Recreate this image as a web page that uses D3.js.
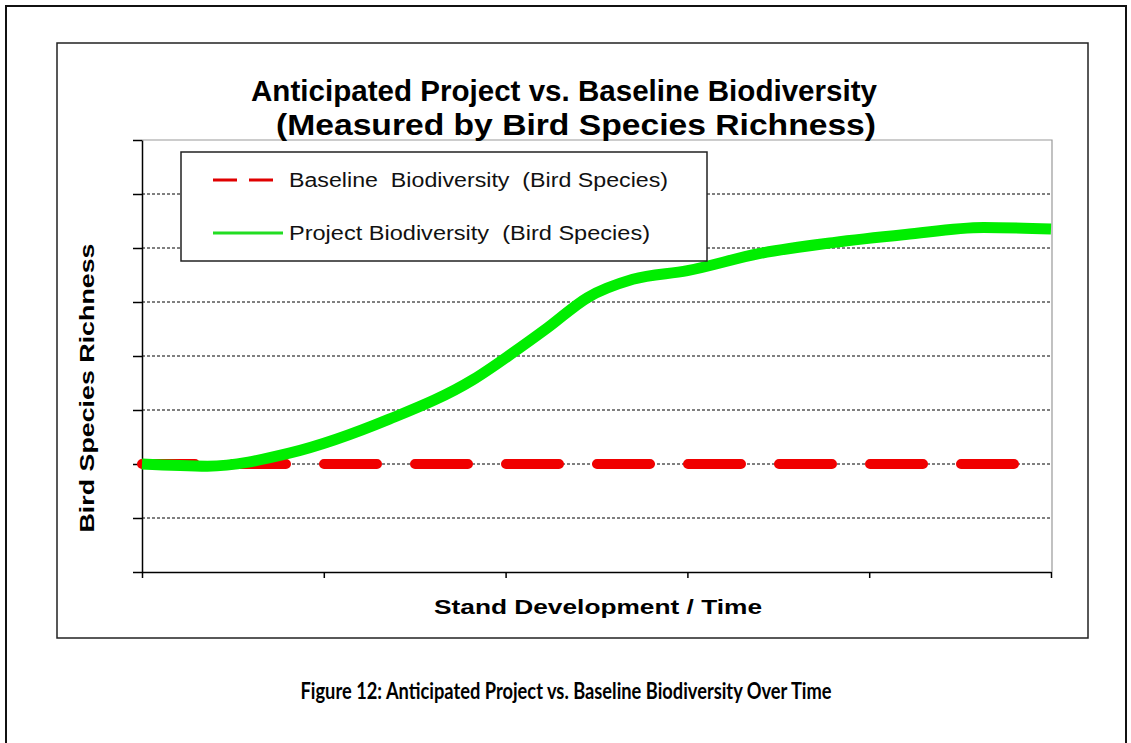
<!DOCTYPE html>
<html>
<head>
<meta charset="utf-8">
<script src="https://cdn.jsdelivr.net/npm/d3@7"></script>
<style>
  body { margin: 0; background: #fff; }
  text { font-family: 'Liberation Sans', Arial, sans-serif; }
</style>
</head>
<body>
<script>
// Data (x = stand development steps, y = richness units)
const xTicks = [0, 1, 2, 3, 4, 5];
const yTicks = [0, 1, 2, 3, 4, 5, 6, 7, 8];
const gridValues = [1, 2, 3, 4, 5, 6, 7];
const baselineX = [0, 5];
const baselineY = [2, 2];
const projectX = [0, 0.36, 0.81, 1.36, 1.82, 2.04, 2.23, 2.45, 2.7, 3.0, 3.4, 3.8, 4.2, 4.63, 5];
const projectY = [2.0, 1.96, 2.2, 2.83, 3.56, 4.06, 4.52, 5.08, 5.42, 5.58, 5.9, 6.1, 6.25, 6.38, 6.35];
const legendLabels = ['Baseline  Biodiversity  (Bird Species)', 'Project Biodiversity  (Bird Species)'];
const legendWidths = [379, 361];

const w = 1131;
const h = 743;

const svg = d3.select('body').append('svg').attr('width', w).attr('height', h);

// Outer figure frame and chart frame
svg.append('rect').attr('x', 6).attr('y', 6).attr('width', 1120).attr('height', 760)
  .attr('fill', 'none').attr('stroke', '#111').attr('stroke-width', 2);
svg.append('rect').attr('x', 57).attr('y', 43).attr('width', 1031).attr('height', 595)
  .attr('fill', '#fff').attr('stroke', '#222').attr('stroke-width', 1.5);

// Scales
const x = d3.scaleLinear().domain([0, 5]).range([142, 1051]);
const y = d3.scaleLinear().domain([0, 8]).range([572, 140]);

// Plot area border (grey, top and right)
svg.append('path')
  .attr('d', `M${x(0)},${y(8)}H${x(5) + 1}V${y(0)}`)
  .attr('fill', 'none').attr('stroke', '#999').attr('stroke-width', 1.2);

// Dashed gridlines
svg.append('g').selectAll('line').data(gridValues).enter().append('line')
  .attr('x1', x(0)).attr('x2', x(5))
  .attr('y1', d => y(d)).attr('y2', d => y(d))
  .attr('stroke', '#000').attr('stroke-width', 1).attr('stroke-dasharray', '3,2');

// Axes
const yAxis = d3.axisLeft(y).tickValues(yTicks).tickSize(9).tickSizeOuter(0).tickFormat('');
svg.append('g').attr('transform', `translate(${x(0)},0)`).call(yAxis)
  .call(g => g.selectAll('line,path').attr('stroke', '#000').attr('stroke-width', 1.5));
const xAxis = d3.axisBottom(x).tickValues(xTicks).tickSize(6).tickSizeOuter(0).tickFormat('');
svg.append('g').attr('transform', `translate(0,${y(0)})`).call(xAxis)
  .call(g => g.selectAll('line,path').attr('stroke', '#000').attr('stroke-width', 1.5));

const line = d3.line().x(d => x(d[0])).y(d => y(d[1]));

// Baseline series (thick red dashes)
svg.append('path')
  .datum(baselineX.map((d, i) => [d, baselineY[i]]))
  .attr('d', line)
  .attr('fill', 'none').attr('stroke', '#f00000').attr('stroke-width', 10)
  .attr('stroke-linecap', 'round').attr('stroke-dasharray', '53,38');

// Project series (thick green curve)
svg.append('path')
  .datum(projectX.map((d, i) => [d, projectY[i]]))
  .attr('d', line.curve(d3.curveMonotoneX))
  .attr('fill', 'none').attr('stroke', '#00ee00').attr('stroke-width', 11)
  .attr('stroke-linecap', 'butt');

// Legend
const legend = svg.append('g');
legend.append('rect').attr('x', 181).attr('y', 152).attr('width', 526).attr('height', 109)
  .attr('fill', '#fff').attr('stroke', '#222').attr('stroke-width', 1.5);
legend.append('line').attr('x1', 213).attr('x2', 276).attr('y1', 180).attr('y2', 180)
  .attr('stroke', '#e00000').attr('stroke-width', 3).attr('stroke-dasharray', '24,12');
legend.append('line').attr('x1', 213).attr('x2', 283).attr('y1', 233).attr('y2', 233)
  .attr('stroke', '#22dd22').attr('stroke-width', 3);
legend.selectAll('text').data(legendLabels).enter().append('text')
  .attr('x', 289).attr('y', (d, i) => 187 + i * 53)
  .attr('font-size', 20).attr('fill', '#111')
  .attr('textLength', (d, i) => legendWidths[i]).attr('lengthAdjust', 'spacingAndGlyphs')
  .style('white-space', 'pre')
  .text(d => d);

// Titles
svg.append('text').attr('x', 564).attr('y', 101).attr('text-anchor', 'middle')
  .attr('font-size', 30).attr('font-weight', 'bold')
  .attr('textLength', 626).attr('lengthAdjust', 'spacingAndGlyphs')
  .text('Anticipated Project  vs. Baseline Biodiversity');
svg.append('text').attr('x', 576).attr('y', 135).attr('text-anchor', 'middle')
  .attr('font-size', 30).attr('font-weight', 'bold')
  .attr('textLength', 600).attr('lengthAdjust', 'spacingAndGlyphs')
  .text('(Measured by Bird Species Richness)');

// Axis labels
svg.append('text').attr('transform', 'translate(94,388) rotate(-90)').attr('text-anchor', 'middle')
  .attr('font-size', 20).attr('font-weight', 'bold')
  .attr('textLength', 289).attr('lengthAdjust', 'spacingAndGlyphs')
  .text('Bird Species Richness');
svg.append('text').attr('x', 598).attr('y', 614).attr('text-anchor', 'middle')
  .attr('font-size', 20).attr('font-weight', 'bold')
  .attr('textLength', 328).attr('lengthAdjust', 'spacingAndGlyphs')
  .text('Stand Development / Time');

// Figure caption
svg.append('text').attr('x', 566).attr('y', 699).attr('text-anchor', 'middle')
  .style('font-family', "Lato, 'Open Sans', sans-serif")
  .attr('font-size', 22.5).attr('font-weight', 'bold')
  .attr('textLength', 531).attr('lengthAdjust', 'spacingAndGlyphs')
  .text('Figure 12: Anticipated Project vs. Baseline Biodiversity Over Time');
</script>
</body>
</html>
